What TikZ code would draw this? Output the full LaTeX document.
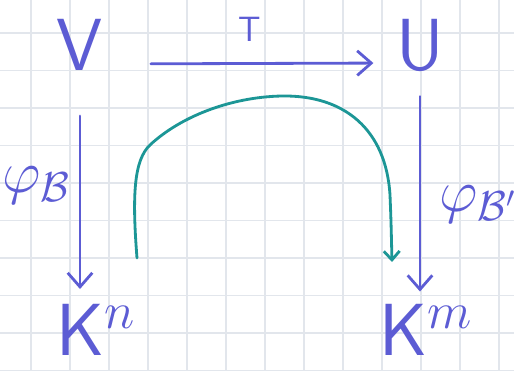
\RequirePackage{fix-cm}
\documentclass[tikz,border=0pt]{standalone}
\usepackage{amsmath,amssymb}
\usetikzlibrary{arrows.meta}
\definecolor{ink}{RGB}{92,92,212}
\definecolor{teal2}{RGB}{28,150,150}
\definecolor{paper}{RGB}{226,230,236}
\begin{document}
\begin{tikzpicture}[x=0.02cm,y=-0.02cm,
  pen/.style={draw=ink,line width=1.6pt,line cap=round},
  arr/.style={pen,-{Straight Barb[length=8pt,width=14pt,line width=1.6pt]}},
  obj/.style={text=ink,font=\fontsize{42}{44}\selectfont\sffamily,inner sep=0pt},
  lbl/.style={text=ink,font=\fontsize{34}{36}\selectfont,inner sep=0pt},
  gridline/.style={draw=paper,line width=0.6pt}]
\useasboundingbox (0,0) rectangle (514,371);
\fill[white] (0,0) rectangle (514,371);
% squared paper
\foreach \gx in {31,70,...,499} \draw[gridline] (\gx,0) -- (\gx,371);
\foreach \gy in {33,70.5,...,371} \draw[gridline] (0,\gy) -- (514,\gy);
% objects
\node[obj] (V) at (80,45) {V};
\node[obj] (U) at (420,45) {U};
\node[obj] (Kn) at (96,330) {$\mathsf{K}^{n}$};
\node[obj] (Km) at (426,330) {$\mathsf{K}^{m}$};
% maps
\draw[arr,shorten <=0.95cm,shorten >=0.45cm] ([yshift=-0.38cm]V.east) -- node[lbl,font=\fontsize{20}{22}\selectfont\sffamily,above=0.42cm] (T) {T} ([yshift=-0.36cm]U.west);
\draw[arr,shorten <=0.9cm,shorten >=0.3cm] (V) -- (V |- Kn.north);
\draw[arr,shorten <=0.5cm,shorten >=0.25cm] (U) -- (U |- Km.north);
\node[lbl] (phiB) at (36,185) {$\varphi_{\mathcal{B}}$};
\node[lbl] (phiBp) at (478,204) {$\varphi_{\mathcal{B}'}$};
% composite
\coordinate (cs) at (137,258);
\coordinate (ce) at (392,262);
\draw[draw=teal2,line width=1.6pt,line cap=round,-{Straight Barb[length=5pt,width=9pt,line width=1.6pt]}]
  (cs) .. controls (132,195) and (134,160) .. (150,145)
  .. controls (180,117) and (230,97) .. (282,96)
  .. controls (345,95) and (386,130) .. (390,195)
  .. controls (391,220) .. (ce);
\end{tikzpicture}
\end{document}
